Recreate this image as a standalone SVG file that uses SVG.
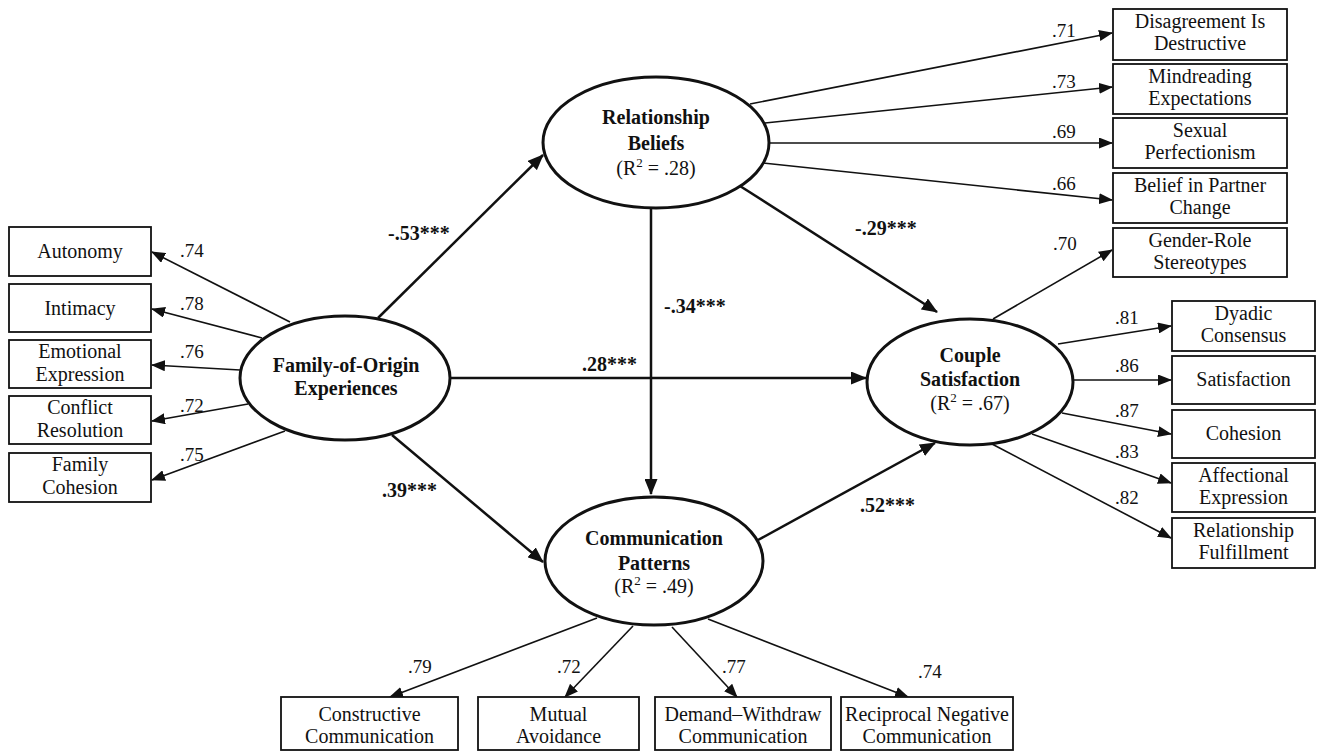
<svg xmlns="http://www.w3.org/2000/svg" width="1322" height="753" viewBox="0 0 1322 753">
<style>
text{font-family:"Liberation Serif","Times New Roman",serif;fill:#111}
.bx{fill:#fff;stroke:#111;stroke-width:1.8}
.el{fill:#fff;stroke:#111;stroke-width:3}
.t{font-size:20px;text-anchor:middle}
.lt{font-size:20px;font-weight:bold;text-anchor:middle}
.ld{font-size:19px}
.pl{font-size:20px;font-weight:bold}
.sp{stroke:#111;stroke-width:2.5;fill:none;marker-end:url(#big)}
.lp{stroke:#111;stroke-width:1.6;fill:none;marker-end:url(#sm)}
</style>
<defs>
<marker id="big" markerUnits="userSpaceOnUse" markerWidth="16" markerHeight="13" refX="15" refY="6.5" orient="auto"><path d="M0,0 L16,6.5 L0,13 z" fill="#111"/></marker>
<marker id="sm" markerUnits="userSpaceOnUse" markerWidth="14" markerHeight="11" refX="13" refY="5.5" orient="auto"><path d="M0,0 L14,5.5 L0,11 z" fill="#111"/></marker>
</defs>
<rect width="1322" height="753" fill="#fff"/>

<g id="connectors">
<line class="sp" x1="378" y1="318" x2="543" y2="155"/>
<line class="sp" x1="449" y1="378" x2="866" y2="378"/>
<line class="sp" x1="392" y1="435" x2="543" y2="562"/>
<line class="sp" x1="651" y1="208" x2="651" y2="494"/>
<line class="sp" x1="740" y1="186" x2="937" y2="312"/>
<line class="sp" x1="758" y1="540" x2="935" y2="443"/>

<line class="lp" x1="290" y1="322" x2="152" y2="252"/>
<line class="lp" x1="262" y1="338" x2="152" y2="309"/>
<line class="lp" x1="240" y1="370" x2="152" y2="365"/>
<line class="lp" x1="248" y1="404" x2="152" y2="421"/>
<line class="lp" x1="285" y1="431" x2="152" y2="480"/>

<line class="lp" x1="750" y1="104" x2="1112" y2="33"/>
<line class="lp" x1="765" y1="123" x2="1112" y2="87"/>
<line class="lp" x1="769" y1="143" x2="1112" y2="143"/>
<line class="lp" x1="763" y1="163" x2="1112" y2="200"/>
<line class="lp" x1="993" y1="319" x2="1112" y2="250"/>

<line class="lp" x1="1058" y1="344" x2="1171" y2="326"/>
<line class="lp" x1="1073" y1="380" x2="1171" y2="380"/>
<line class="lp" x1="1062" y1="413" x2="1171" y2="434"/>
<line class="lp" x1="1032" y1="434" x2="1171" y2="483"/>
<line class="lp" x1="992" y1="444" x2="1171" y2="538"/>

<line class="lp" x1="597" y1="618" x2="390" y2="697"/>
<line class="lp" x1="633" y1="626" x2="565" y2="697"/>
<line class="lp" x1="672" y1="627" x2="737" y2="697"/>
<line class="lp" x1="708" y1="619" x2="908" y2="697"/>

<text class="pl" x="388" y="240">-.53***</text>
<text class="pl" x="582" y="371">.28***</text>
<text class="pl" x="382" y="497">.39***</text>
<text class="pl" x="664" y="313">-.34***</text>
<text class="pl" x="855" y="235">-.29***</text>
<text class="pl" x="860" y="512">.52***</text>

<text class="ld" x="180" y="257">.74</text>
<text class="ld" x="180" y="310">.78</text>
<text class="ld" x="180" y="358">.76</text>
<text class="ld" x="180" y="412">.72</text>
<text class="ld" x="180" y="461">.75</text>

<text class="ld" x="1052" y="37">.71</text>
<text class="ld" x="1052" y="88">.73</text>
<text class="ld" x="1052" y="138">.69</text>
<text class="ld" x="1052" y="190">.66</text>
<text class="ld" x="1053" y="250">.70</text>

<text class="ld" x="1115" y="324">.81</text>
<text class="ld" x="1115" y="372">.86</text>
<text class="ld" x="1115" y="417">.87</text>
<text class="ld" x="1115" y="458">.83</text>
<text class="ld" x="1115" y="504">.82</text>

<text class="ld" x="408" y="673">.79</text>
<text class="ld" x="557" y="673">.72</text>
<text class="ld" x="722" y="673">.77</text>
<text class="ld" x="918" y="678">.74</text>
</g>

<g id="foo">
<ellipse class="el" cx="345" cy="378" rx="105" ry="62"/>
<text class="lt" x="346" y="372">Family-of-Origin</text>
<text class="lt" x="346" y="395">Experiences</text>
</g>
<g id="rb">
<ellipse class="el" cx="656" cy="142.5" rx="113" ry="65.5"/>
<text class="lt" x="656" y="124">Relationship</text>
<text class="lt" x="656" y="150">Beliefs</text>
<text class="t" x="656" y="175">(R<tspan font-size="13" dy="-8">2</tspan><tspan dy="8"> = .28)</tspan></text>
</g>
<g id="cp">
<ellipse class="el" cx="654" cy="561" rx="109" ry="64"/>
<text class="lt" x="654" y="545">Communication</text>
<text class="lt" x="654" y="570">Patterns</text>
<text class="t" x="654" y="593">(R<tspan font-size="13" dy="-8">2</tspan><tspan dy="8"> = .49)</tspan></text>
</g>
<g id="cs">
<ellipse class="el" cx="970" cy="382" rx="103" ry="63"/>
<text class="lt" x="970" y="362">Couple</text>
<text class="lt" x="970" y="386">Satisfaction</text>
<text class="t" x="970" y="410">(R<tspan font-size="13" dy="-8">2</tspan><tspan dy="8"> = .67)</tspan></text>
</g>

<g id="autonomy"><rect class="bx" x="9" y="227" width="142" height="49"/><text class="t" x="80" y="258">Autonomy</text></g>
<g id="intimacy"><rect class="bx" x="9" y="284" width="142" height="48"/><text class="t" x="80" y="315">Intimacy</text></g>
<g id="emotional"><rect class="bx" x="9" y="340" width="142" height="48"/><text class="t" x="80" y="358">Emotional</text><text class="t" x="80" y="381">Expression</text></g>
<g id="conflict"><rect class="bx" x="9" y="396" width="142" height="48"/><text class="t" x="80" y="414">Conflict</text><text class="t" x="80" y="437">Resolution</text></g>
<g id="familycohesion"><rect class="bx" x="9" y="453" width="142" height="49"/><text class="t" x="80" y="471">Family</text><text class="t" x="80" y="494">Cohesion</text></g>

<g id="disagreement"><rect class="bx" x="1113" y="9" width="174" height="51"/><text class="t" x="1200" y="28">Disagreement Is</text><text class="t" x="1200" y="50">Destructive</text></g>
<g id="mindreading"><rect class="bx" x="1113" y="64" width="174" height="50"/><text class="t" x="1200" y="83">Mindreading</text><text class="t" x="1200" y="105">Expectations</text></g>
<g id="sexual"><rect class="bx" x="1113" y="118" width="174" height="50"/><text class="t" x="1200" y="137">Sexual</text><text class="t" x="1200" y="159">Perfectionism</text></g>
<g id="belief"><rect class="bx" x="1113" y="173" width="174" height="50"/><text class="t" x="1200" y="192">Belief in Partner</text><text class="t" x="1200" y="214">Change</text></g>
<g id="gender"><rect class="bx" x="1113" y="228" width="174" height="49"/><text class="t" x="1200" y="247">Gender-Role</text><text class="t" x="1200" y="269">Stereotypes</text></g>

<g id="dyadic"><rect class="bx" x="1172" y="301" width="143" height="50"/><text class="t" x="1243.5" y="320">Dyadic</text><text class="t" x="1243.5" y="342">Consensus</text></g>
<g id="satisfaction"><rect class="bx" x="1172" y="356" width="143" height="48"/><text class="t" x="1243.5" y="386">Satisfaction</text></g>
<g id="cohesion"><rect class="bx" x="1172" y="410" width="143" height="48"/><text class="t" x="1243.5" y="440">Cohesion</text></g>
<g id="affectional"><rect class="bx" x="1172" y="463" width="143" height="49"/><text class="t" x="1243.5" y="482">Affectional</text><text class="t" x="1243.5" y="504">Expression</text></g>
<g id="fulfillment"><rect class="bx" x="1172" y="518" width="143" height="50"/><text class="t" x="1243.5" y="537">Relationship</text><text class="t" x="1243.5" y="559">Fulfillment</text></g>

<g id="constructive"><rect class="bx" x="281" y="697" width="177" height="53"/><text class="t" x="369.5" y="721">Constructive</text><text class="t" x="369.5" y="743">Communication</text></g>
<g id="mutual"><rect class="bx" x="478" y="697" width="161" height="53"/><text class="t" x="558.5" y="721">Mutual</text><text class="t" x="558.5" y="743">Avoidance</text></g>
<g id="demand"><rect class="bx" x="655" y="697" width="176" height="53"/><text class="t" x="743" y="721">Demand–Withdraw</text><text class="t" x="743" y="743">Communication</text></g>
<g id="reciprocal"><rect class="bx" x="841" y="697" width="172" height="53"/><text class="t" x="927" y="721">Reciprocal Negative</text><text class="t" x="927" y="743">Communication</text></g>
</svg>
